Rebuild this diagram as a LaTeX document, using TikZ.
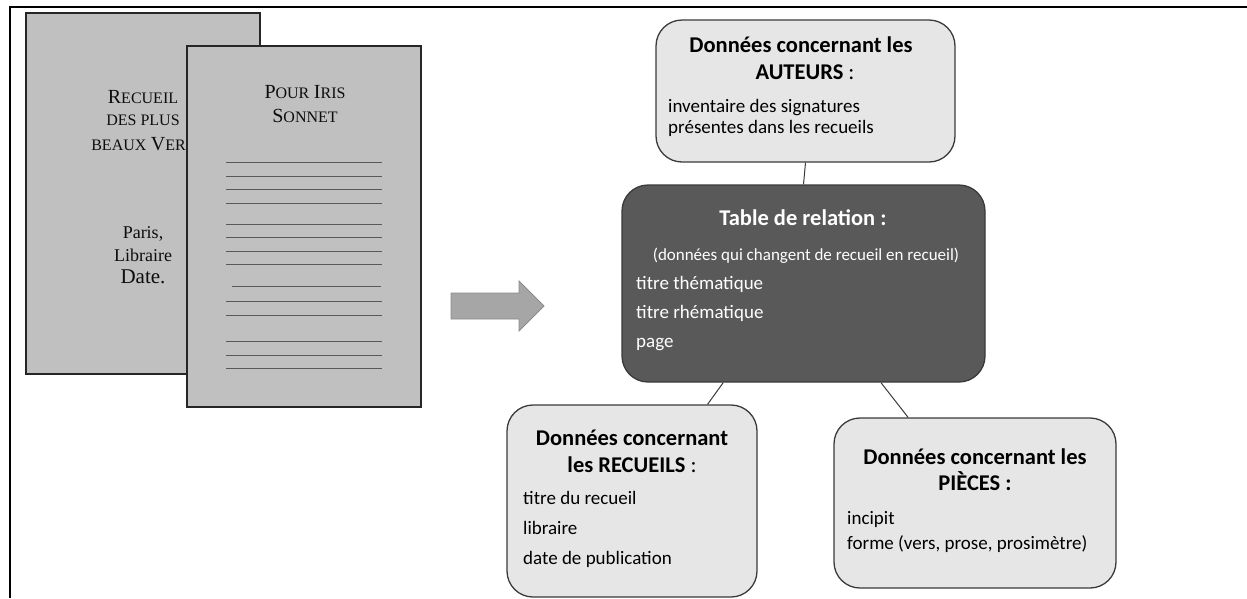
\documentclass[tikz,border=0pt]{standalone}
\usepackage{fontspec}
\setmainfont{Carlito}
\newfontfamily\pagefont{Liberation Serif}
\usepackage{tikz}
\usetikzlibrary{arrows.meta,positioning,calc}
\usepackage{xcolor}
\definecolor{pagegray}{HTML}{C0C0C0}
\definecolor{boxgray}{HTML}{E7E6E6}
\definecolor{darkbox}{HTML}{595959}
\definecolor{arrowgray}{HTML}{A6A6A6}
\definecolor{edgegray}{HTML}{3A3A3A}
% small capitals drawn by hand
\newcommand{\lowcap}[1]{{\fontsize{16}{19}\selectfont #1}}
\newcommand{\highcap}[1]{{\fontsize{20}{23}\selectfont #1}}

\begin{document}
\begin{tikzpicture}[x=1pt,y=-1pt,
  sheet/.style={draw=black!85, line width=1.6pt, fill=pagegray, minimum width=234pt, minimum height=361pt},
  pagetext/.style={font=\pagefont\fontsize{18}{21}\selectfont, text=black!95, inner sep=0pt},
  pageline/.style={draw=black!65, line width=0.9pt},
  databox/.style={draw=edgegray, line width=1.3pt, fill=boxgray, rounded corners=26pt, inner sep=0pt},
  boxtitle/.style={font=\fontsize{22.5}{26}\selectfont\bfseries, inner sep=0pt, text height=0.7em, text depth=0.2em},
  boxitem/.style={font=\fontsize{19}{23}\selectfont, anchor=west, inner sep=0pt, text height=0.7em, text depth=0.2em},
  link/.style={draw=edgegray, line width=1pt}]
  \useasboundingbox (0,0) rectangle (1247,598);
  \draw[line width=2.2pt] (1247,7) -- (10,7) -- (10,598);

  % the two pages of the source
  \node[sheet] (recueil) at (143,193.5) {};
  \node[pagetext] (rline1) at (143,97) {\highcap{R}\lowcap{ECUEIL}};
  \node[pagetext] (rline2) at (143,120) {\lowcap{DES PLUS}};
  \node[pagetext] (rline3) at (143,144) {\lowcap{BEAUX} \highcap{V}\lowcap{ERS}};
  \node[pagetext] (rline4) at (143,234) {Paris,};
  \node[pagetext] (rline5) at (143,255) {Libraire};
  \node[pagetext, font=\pagefont\fontsize{21}{25}\selectfont] (rline6) at (143,277) {Date.};

  \node[sheet] (sonnet) at (304,226.5) {};
  \node[pagetext] (sline1) at (305,92) {\highcap{P}\lowcap{OUR} \highcap{I}\lowcap{RIS}};
  \node[pagetext] (sline2) at (305,116) {\highcap{S}\lowcap{ONNET}};
  \foreach \ly in {162,176,189,203,224,237,251,264,301,315,341,355,368}
    \draw[pageline] (226,\ly) -- (382,\ly);
  \draw[pageline] (232,286) -- (381,286);

  % big arrow
  \draw[fill=arrowgray, draw=black!45, line width=0.8pt]
    (451,293) -- (519,293) -- (519,281) -- (544,306) -- (519,331) -- (519,319) -- (451,319) -- cycle;

  % data boxes
  \node[databox, minimum width=299pt, minimum height=142pt] (auteurs) at (805.5,91) {};
  \node[databox, fill=darkbox, minimum width=363pt, minimum height=197pt] (table) at (803.5,283.5) {};
  \node[databox, minimum width=250pt, minimum height=192pt] (recueils) at (632,501) {};
  \node[databox, minimum width=282pt, minimum height=170pt] (pieces) at (975,503) {};

  \draw[link] (auteurs.south) -- (table.north);
  \draw[link] (table.231) -- (recueils.52);
  \draw[link] (table.308) -- (pieces.128);

  \node[boxtitle] (auttitle1) at (801,50) {Données concernant les};
  \node[boxtitle] (auttitle2) at (805,77) {AUTEURS \mdseries:};
  \node[boxitem] (autitem1) at (668,110) {inventaire des signatures};
  \node[boxitem] (autitem2) at (668,131) {présentes dans les recueils};

  \node[boxtitle, text=white] (tabtitle) at (803,223) {Table de relation :};
  \node[boxitem, anchor=center, text=white, font=\fontsize{17}{20}\selectfont] (tabnote) at (806,258) {(données qui changent de recueil en recueil)};
  \node[boxitem, text=white] (tabitem1) at (636,287) {titre thématique};
  \node[boxitem, text=white] (tabitem2) at (636,316) {titre rhématique};
  \node[boxitem, text=white] (tabitem3) at (636,345) {page};

  \node[boxtitle] (rectitle1) at (632,443) {Données concernant};
  \node[boxtitle] (rectitle2) at (632,470) {les RECUEILS \mdseries:};
  \node[boxitem] (recitem1) at (523,502) {titre du recueil};
  \node[boxitem] (recitem2) at (523,532) {libraire};
  \node[boxitem] (recitem3) at (523,562) {date de publication};

  \node[boxtitle] (piectitle1) at (975,462) {Données concernant les};
  \node[boxtitle] (piectitle2) at (975,488) {PIÈCES :};
  \node[boxitem] (piecitem1) at (847,522) {incipit};
  \node[boxitem] (piecitem2) at (847,547) {forme (vers, prose, prosimètre)};
\end{tikzpicture}
\end{document}
